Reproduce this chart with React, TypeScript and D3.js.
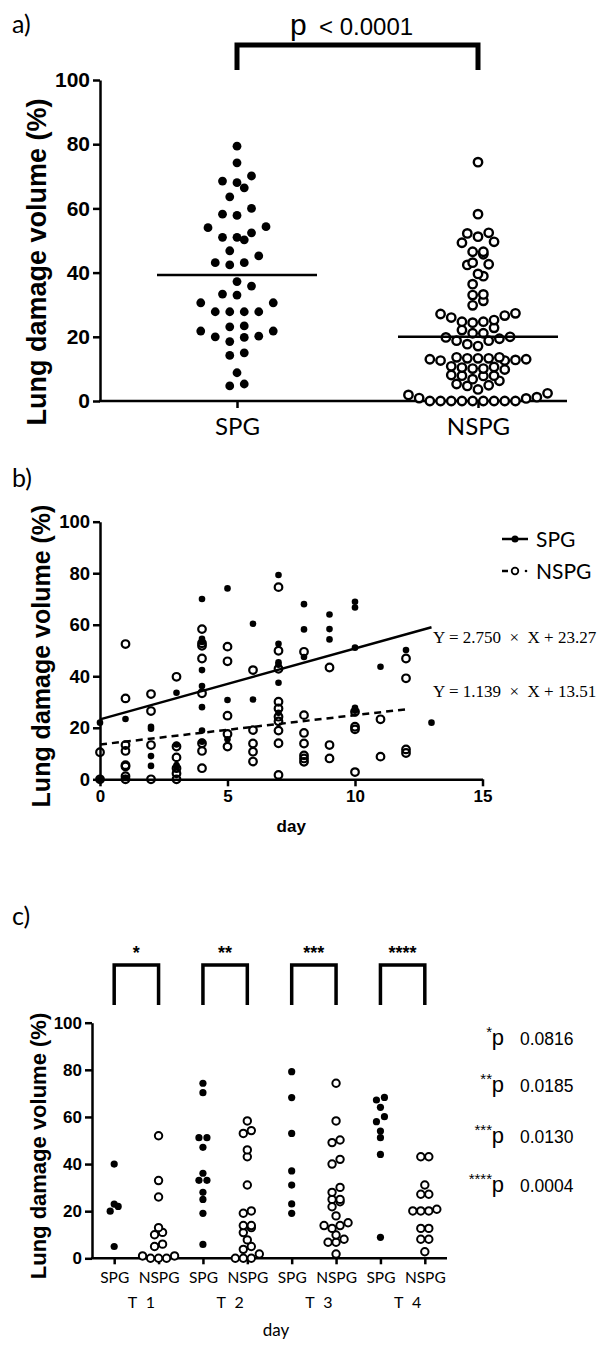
import React, { useEffect, useRef } from "react";
import * as d3 from "d3";

// panel a – all patients
const groupsA = ["SPG", "NSPG"];
const spgA = [
  79.4, 74.2, 70.1, 68, 68.5, 66.4, 63.6, 58.2, 57.8, 60, 54, 54.3, 51, 50.2, 51, 52.4, 46.8, 45.2, 43.1,
  42.4, 43.1, 37.2, 35.8, 33, 33.3, 30.6, 30.6, 27.8, 27.8, 27.8, 27.8, 23.4, 21.8, 20.2, 19.8, 18.5, 20,
  21.8, 23.1, 15, 14.2, 8.8, 4.7, 5.3,
];
const nspgA = [
  74.4, 58.2, 52.2, 51.2, 52.4, 49.6, 49.3, 46.5, 45.7, 46.5, 42.6, 42.4, 43.1, 39.6, 38.9, 36.4, 31.2, 33,
  33.2, 29.8, 26, 24.7, 24.4, 27.3, 27.1, 24.7, 25.2, 26.6, 22.1, 22.8, 21.1, 19.8, 18.8, 17.7, 17.1, 18.8,
  19.4, 20, 21.1, 13.3, 13, 12.8, 12.6, 13.6, 13.6, 12.6, 13, 13.3, 13.3, 10.6, 10.1, 9.8, 10.1, 10.4, 10.8,
  7.9, 7.8, 6.3, 4.9, 4.7, 5.3, 6.8, 7.9, 8.1, 3.6, 1.9, 0.8, 0, 0, 0, 0, 0, 0, 0, 0, 0, 0.9, 1.2, 2.4,
];

// panel b – damage by day: [day, value]
const spgB: [number, number][] = [
  [0, 22], [0, 0], [1, 23.4], [1, 0.5], [2, 20.4], [2, 19.6], [2, 9], [2, 5.2],
  [3, 33.6], [3, 13.5], [3, 5.5], [3, 4.8],
  [4, 70], [4, 54.5], [4, 53.3], [4, 42.4], [4, 36.2], [4, 28], [4, 18.9], [4, 14.6],
  [5, 74.1], [5, 30.8], [5, 15.5], [6, 60.4], [6, 31],
  [7, 79.3], [7, 52.6], [7, 45.4], [7, 44.5], [7, 37.5], [7, 25.8],
  [8, 68], [8, 58.2], [8, 47.5], [9, 64], [9, 58.3], [9, 54.3],
  [10, 68.9], [10, 66.7], [10, 51.1], [10, 27.8], [10, 26.6], [11, 43.7], [12, 50.2], [13, 22],
];
const nspgB: [number, number][] = [
  [0, 10.5], [0, 0], [1, 52.5], [1, 31.4], [1, 13.3], [1, 11], [1, 5.5], [1, 5], [1, 1.2], [1, 0],
  [2, 33.1], [2, 26.5], [2, 13.3], [2, 0],
  [3, 39.8], [3, 12.7], [3, 8.5], [3, 4.3], [3, 2.3], [3, 0],
  [4, 58.3], [4, 52.8], [4, 51.8], [4, 46.9], [4, 33.4], [4, 14], [4, 11], [4, 4.3],
  [5, 51.5], [5, 45.8], [5, 24.7], [5, 17.6], [5, 12.7],
  [6, 42.4], [6, 19.1], [6, 13.9], [6, 10.7], [6, 6.9],
  [7, 74.6], [7, 49.9], [7, 42.9], [7, 30.1], [7, 27.5], [7, 24.3], [7, 22.5], [7, 18.9], [7, 14], [7, 1.7],
  [8, 49.5], [8, 24.9], [8, 18], [8, 13.9], [8, 9.3], [8, 8.1], [8, 6.8],
  [9, 43.4], [9, 13.3], [9, 8.1],
  [10, 26.2], [10, 20.4], [10, 19.4], [10, 2.8],
  [11, 23.3], [11, 8.8], [12, 46.9], [12, 39.2], [12, 11.6], [12, 10.2],
];
const fitSlope = [2.75, 1.139];
const fitIntercept = [23.27, 13.51];
const fitEnd = [13, 12];
const fitText = ["Y = 2.750  \u00d7  X + 23.27", "Y = 1.139  \u00d7  X + 13.51"];

// panel c – by time window
const timepoints = ["T 1", "T 2", "T 3", "T 4"];
const spgC = [
  [40, 23, 22, 20, 5],
  [74.3, 70.3, 51.2, 51.2, 47.1, 36.1, 33.1, 33.1, 28, 25, 19.1, 5.9],
  [79.2, 68.2, 53, 37.1, 31.1, 23.1, 19.1],
  [68.3, 67.2, 64.1, 60.1, 58, 54, 51.2, 44.1, 8.9],
];
const nspgC = [
  [52, 33, 26, 13, 11, 10, 6, 5, 1, 1, 0, 0, 0],
  [58.3, 54.2, 53, 46, 43.1, 31.1, 20.1, 19.1, 13.9, 13.9, 13, 10.9, 7.8, 5, 3.8, 1.8, 0, 0, 0],
  [74.3, 58.3, 50.2, 49.1, 42, 40, 30.1, 28, 25, 25, 24, 21.9, 18, 15.1, 13.9, 13.9, 12.7, 9.9, 8.1, 6.8, 6.8, 1.8],
  [43.1, 43.1, 31.1, 27.2, 27.2, 20.8, 20.1, 20.1, 20.1, 12.7, 12.7, 8.1, 8.1, 2.8],
];
const stars = ["*", "**", "***", "****"];
const pValues = ["0.0816", "0.0185", "0.0130", "0.0004"];

// GraphPad-like scatter: bin by height, spread each bin from the centre out
function swarm(values: number[], y: (v: number) => number, binPx: number, step: number) {
  const sorted = [...values].sort((a, b) => a - b);
  const out: { v: number; dx: number }[] = [];
  let i = 0;
  while (i < sorted.length) {
    const start = y(sorted[i]);
    const bin: number[] = [];
    while (i < sorted.length && start - y(sorted[i]) <= binPx) bin.push(sorted[i++]);
    const n = bin.length;
    const slots: number[] = [];
    if (n % 2) {
      slots.push(0);
      for (let k = 1; slots.length < n; k++) {
        slots.push(-k);
        if (slots.length < n) slots.push(k);
      }
    } else {
      for (let k = 0.5; slots.length < n; k++) slots.push(-k, k);
    }
    bin.forEach((v, j) => out.push({ v, dx: slots[j] * step }));
  }
  return out;
}

const bold = "'Liberation Sans', Arial, sans-serif";
const soft = "Lato, 'Open Sans', sans-serif";

export default function App() {
  const svgRef = useRef<SVGSVGElement>(null);

  useEffect(() => {
    const svg = d3.select(svgRef.current);
    svg.selectAll("*").remove();

    const styleAxis = (g: any, size: number) => {
      g.select(".domain").attr("stroke-width", 2.5).attr("stroke", "#000");
      g.selectAll(".tick line").attr("stroke-width", 2.5).attr("stroke", "#000");
      g.selectAll(".tick text")
        .attr("font-family", bold)
        .attr("font-weight", "bold")
        .attr("font-size", size)
        .attr("fill", "#000");
    };
    const yTitle = (x: number, y: number, size: number) =>
      svg
        .append("text")
        .attr("transform", `translate(${x},${y}) rotate(-90)`)
        .attr("text-anchor", "middle")
        .attr("font-family", bold)
        .attr("font-weight", "bold")
        .attr("font-size", size)
        .text("Lung damage volume (%)");
    const panelLabel = (x: number, y: number, t: string) =>
      svg.append("text").attr("x", x).attr("y", y).attr("font-family", soft).attr("font-size", 25).text(t);

    // ---------- a ----------
    const yA = d3.scaleLinear().domain([0, 100]).range([401, 80]);
    const xA = d3.scalePoint<string>().domain(groupsA).range([237, 478]);
    panelLabel(12, 33, "a)");

    svg
      .append("path")
      .attr("d", `M${xA("SPG")},70V45H${xA("NSPG")}V70`)
      .attr("fill", "none")
      .attr("stroke", "#000")
      .attr("stroke-width", 5);
    const pt = svg.append("text").attr("y", 35).attr("font-family", bold);
    pt.append("tspan").attr("x", 290).attr("font-size", 30).text("p");
    pt.append("tspan").attr("x", 319).attr("font-size", 24).text("< 0.0001");

    svg
      .append("g")
      .attr("transform", "translate(100,0)")
      .call(d3.axisLeft(yA).tickValues(d3.range(0, 101, 20)).tickSize(7).tickSizeOuter(0).tickPadding(3))
      .call((g) => styleAxis(g, 21));
    const gxA = svg
      .append("g")
      .attr("transform", "translate(0,401)")
      .call(d3.axisBottom(xA).tickSize(7).tickSizeOuter(0).tickPadding(10));
    styleAxis(gxA, 24);
    gxA.select(".domain").remove();
    gxA.selectAll(".tick text").attr("font-family", soft).attr("font-weight", "normal");
    svg.append("line").attr("x1", 99).attr("x2", 567).attr("y1", 401).attr("y2", 401).attr("stroke", "#000").attr("stroke-width", 2.5);
    yTitle(46, 262, 27);

    swarm(spgA, yA, 12, 14.5).forEach((d) =>
      svg.append("circle").attr("cx", xA("SPG")! + d.dx).attr("cy", yA(d.v)).attr("r", 4.4).attr("fill", "#000")
    );
    swarm(nspgA, yA, 10, 10.7).forEach((d) =>
      svg
        .append("circle")
        .attr("cx", xA("NSPG")! + d.dx)
        .attr("cy", yA(d.v))
        .attr("r", 4.2)
        .attr("fill", "#fff")
        .attr("stroke", "#000")
        .attr("stroke-width", 2.4)
    );
    [spgA, nspgA].forEach((vals, i) => {
      const cx = xA(groupsA[i])!;
      svg
        .append("line")
        .attr("x1", cx - 80)
        .attr("x2", cx + 80)
        .attr("y1", yA(d3.mean(vals)!))
        .attr("y2", yA(d3.mean(vals)!))
        .attr("stroke", "#000")
        .attr("stroke-width", 2.5);
    });

    // ---------- b ----------
    const xB = d3.scaleLinear().domain([0, 15]).range([100, 482.5]);
    const yB = d3.scaleLinear().domain([0, 100]).range([779.3, 521.7]);
    panelLabel(12, 487, "b)");
    svg
      .append("g")
      .attr("transform", "translate(100,0)")
      .call(d3.axisLeft(yB).tickValues(d3.range(0, 101, 20)).tickSize(7).tickSizeOuter(0).tickPadding(3))
      .call((g) => styleAxis(g, 18.5));
    svg
      .append("g")
      .attr("transform", "translate(0,779.3)")
      .call(d3.axisBottom(xB).tickValues([0, 5, 10, 15]).tickSize(7).tickSizeOuter(0).tickPadding(4))
      .call((g) => styleAxis(g, 17));
    yTitle(50, 656, 25);
    svg
      .append("text")
      .attr("x", xB(7.5))
      .attr("y", 832)
      .attr("text-anchor", "middle")
      .attr("font-family", bold)
      .attr("font-weight", "bold")
      .attr("font-size", 17)
      .text("day");

    fitSlope.forEach((m, i) => {
      svg
        .append("line")
        .attr("x1", xB(0))
        .attr("y1", yB(fitIntercept[i]))
        .attr("x2", xB(fitEnd[i]))
        .attr("y2", yB(fitIntercept[i] + m * fitEnd[i]))
        .attr("stroke", "#000")
        .attr("stroke-width", 2.5)
        .attr("stroke-dasharray", i ? "7,5" : null);
    });
    nspgB.forEach(([d, v]) =>
      svg
        .append("circle")
        .attr("cx", xB(d))
        .attr("cy", yB(v))
        .attr("r", 3.8)
        .attr("fill", "none")
        .attr("stroke", "#000")
        .attr("stroke-width", 2.2)
    );
    spgB.forEach(([d, v]) =>
      svg.append("circle").attr("cx", xB(d)).attr("cy", yB(v)).attr("r", 3.3).attr("fill", "#000")
    );
    fitText.forEach((t, i) =>
      svg
        .append("text")
        .attr("x", 433)
        .attr("y", [643, 697][i])
        .attr("font-family", "'Liberation Serif', 'Times New Roman', serif")
        .attr("font-size", 17)
        .attr("xml:space", "preserve")
        .text(t)
    );
    // legend
    const lg = svg.append("g").attr("transform", "translate(502,539)");
    lg.append("line").attr("x1", 0).attr("x2", 26).attr("stroke", "#000").attr("stroke-width", 2.5);
    lg.append("circle").attr("cx", 13).attr("r", 3.5).attr("fill", "#000");
    lg.append("text").attr("x", 34).attr("y", 8).attr("font-family", soft).attr("font-size", 21).text("SPG");
    const lg2 = svg.append("g").attr("transform", "translate(502,571)");
    lg2.append("line").attr("x1", 0).attr("x2", 6).attr("stroke", "#000").attr("stroke-width", 2.5);
    lg2.append("circle").attr("cx", 13).attr("r", 3.3).attr("fill", "none").attr("stroke", "#000").attr("stroke-width", 1.8);
    lg2.append("circle").attr("cx", 24).attr("r", 1.3).attr("fill", "#000");
    lg2.append("text").attr("x", 34).attr("y", 8).attr("font-family", soft).attr("font-size", 21).text("NSPG");

    // ---------- c ----------
    const cats = timepoints.flatMap((t) => [`${t}|SPG`, `${t}|NSPG`]);
    const xC = d3.scalePoint<string>().domain(cats).range([92, 447]).padding(0.5);
    const yC = d3.scaleLinear().domain([0, 100]).range([1258.3, 1022.7]);
    panelLabel(12, 925, "c)");
    svg
      .append("g")
      .attr("transform", "translate(92,0)")
      .call(d3.axisLeft(yC).tickValues(d3.range(0, 101, 20)).tickSize(7).tickSizeOuter(0).tickPadding(3))
      .call((g) => styleAxis(g, 17));
    const gxC = svg
      .append("g")
      .attr("transform", "translate(0,1258.3)")
      .call(d3.axisBottom(xC).tickSize(6).tickSizeOuter(0).tickPadding(8).tickFormat((d) => d.split("|")[1]));
    styleAxis(gxC, 15.5);
    gxC.select(".domain").remove();
    gxC.selectAll(".tick text").attr("font-family", soft).attr("font-weight", "normal");
    svg.append("line").attr("x1", 91).attr("x2", 447).attr("y1", 1258.3).attr("y2", 1258.3).attr("stroke", "#000").attr("stroke-width", 2.5);
    yTitle(46, 1146, 22);

    timepoints.forEach((t, i) => {
      const x1 = xC(`${t}|SPG`)!;
      const x2 = xC(`${t}|NSPG`)!;
      svg
        .append("text")
        .attr("x", (x1 + x2) / 2 + 5)
        .attr("y", 1308)
        .attr("text-anchor", "middle")
        .attr("font-family", soft)
        .attr("font-size", 16)
        .attr("word-spacing", 5)
        .text(t);
      svg
        .append("path")
        .attr("d", `M${x1},1005V965H${x2}V1005`)
        .attr("fill", "none")
        .attr("stroke", "#000")
        .attr("stroke-width", 3.5);
      svg
        .append("text")
        .attr("x", (x1 + x2) / 2)
        .attr("y", 959)
        .attr("text-anchor", "middle")
        .attr("font-family", bold)
        .attr("font-weight", "bold")
        .attr("font-size", 18)
        .text(stars[i]);

      swarm(spgC[i], yC, 6, 8).forEach((d) =>
        svg.append("circle").attr("cx", x1 + d.dx).attr("cy", yC(d.v)).attr("r", 3.6).attr("fill", "#000")
      );
      swarm(nspgC[i], yC, 6, 8).forEach((d) =>
        svg
          .append("circle")
          .attr("cx", x2 + d.dx)
          .attr("cy", yC(d.v))
          .attr("r", 3.7)
          .attr("fill", "#fff")
          .attr("stroke", "#000")
          .attr("stroke-width", 2)
      );

      const base = [1045, 1092, 1143, 1192][i];
      svg.append("text").attr("x", 504).attr("y", base).attr("text-anchor", "end").attr("font-family", bold).attr("font-size", 22).text("p");
      svg
        .append("text")
        .attr("x", 492)
        .attr("y", base - 8)
        .attr("text-anchor", "end")
        .attr("font-family", bold)
        .attr("font-size", 15)
        .text(stars[i]);
      svg.append("text").attr("x", 520).attr("y", base).attr("font-family", bold).attr("font-size", 17.5).text(pValues[i]);
    });
    svg
      .append("text")
      .attr("x", 276)
      .attr("y", 1336)
      .attr("text-anchor", "middle")
      .attr("font-family", soft)
      .attr("font-size", 17)
      .text("day");
  }, []);

  return (
    <svg
      ref={svgRef}
      width={608}
      height={1352}
      style={{ position: "absolute", left: 0, top: 0, background: "#fff" }}
    />
  );
}
